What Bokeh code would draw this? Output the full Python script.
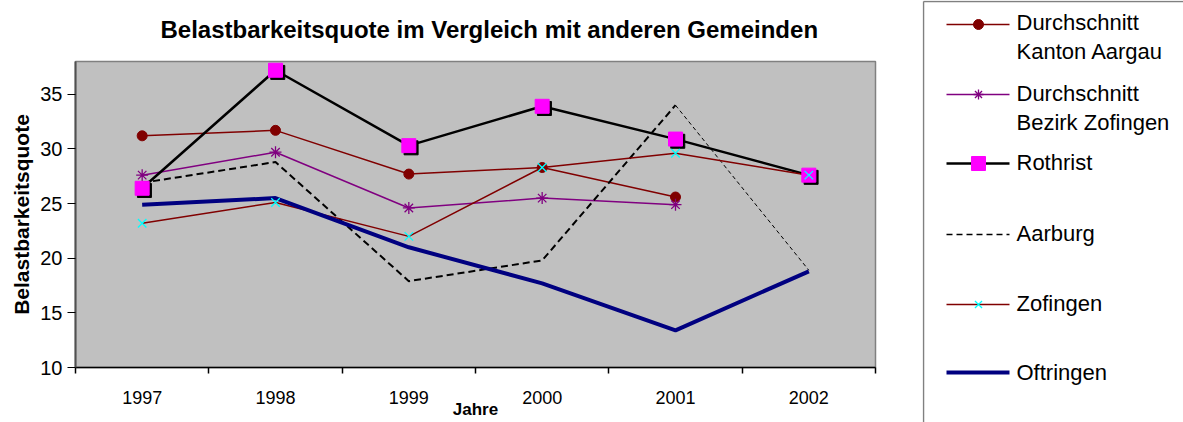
import numpy as np
from bokeh.plotting import figure
from bokeh.models import Range1d, FixedTicker, ColumnDataSource
from bokeh.layouts import row
from bokeh.transform import dodge
from bokeh.core.properties import value
from bokeh.embed import file_html
from bokeh.resources import INLINE

# ---------------- data ----------------
years = ["1997", "1998", "1999", "2000", "2001", "2002"]
kanton_aargau = [31.2, 31.7, 27.7, 28.3, 25.6, np.nan]
bezirk_zofingen = [27.6, 29.7, 24.6, 25.5, 24.9, np.nan]
rothrist = [26.4, 37.2, 30.3, 33.9, 30.9, 27.6]
aarburg = [26.9, 28.8, 17.9, 19.8, 34.0, 18.9]
zofingen = [23.2, 25.1, 22.0, 28.3, 29.6, 27.6]
oftringen = [24.9, 25.5, 21.0, 17.7, 13.4, 18.8]
y_ticks = [10, 15, 20, 25, 30, 35]
legend_labels = ["Durchschnitt\nKanton Aargau", "Durchschnitt\nBezirk Zofingen",
                 "Rothrist", "Aarburg", "Zofingen", "Oftringen"]
title_text = "Belastbarkeitsquote im Vergleich mit anderen Gemeinden"
y_label = "Belastbarkeitsquote"
x_label = "Jahre"

FONT = "Liberation Sans"
MAROON = "#800000"
PURPLE = "#800080"
MAGENTA = "#FF00FF"
CYAN = "#00FFFF"
NAVY = "#000080"

xpos = np.arange(len(years)) + 0.5
src = ColumnDataSource(dict(x=xpos, kanton=kanton_aargau, bezirk=bezirk_zofingen,
                            rothrist=rothrist, aarburg=aarburg, zofingen=zofingen,
                            oftringen=oftringen))

# ---------------- main chart ----------------
p = figure(width=922, height=422, x_range=Range1d(0, len(years)), y_range=Range1d(10, 38),
           output_backend="svg", toolbar_location=None,
           min_border_left=75, min_border_right=47, min_border_top=61, min_border_bottom=55)
p.frame_align = False
p.background_fill_color = "#C0C0C0"
p.border_fill_color = "white"
p.outline_line_color = "#808080"
p.outline_line_width = 1.5
p.xgrid.visible = False
p.ygrid.visible = False

# a blank second title line lifts the title away from the plot area
p.title.text = title_text + "\n\u00a0"
p.title.text_font = FONT
p.title.text_font_size = "24px"
p.title.text_font_style = "bold"
p.title.text_color = "black"
p.title.text_line_height = 0.6
p.title.align = "left"
p.title.offset = 85
p.title.standoff = 4

xa = p.xaxis[0]
xa.ticker = FixedTicker(ticks=list(xpos), minor_ticks=list(np.arange(len(years) + 1)))
xa.major_label_overrides = {float(v): y for v, y in zip(xpos, years)}
xa.major_tick_out = 0
xa.major_tick_in = 0
xa.minor_tick_out = 6
xa.minor_tick_in = 0
xa.minor_tick_line_color = "black"
xa.minor_tick_line_width = 1.5
xa.major_label_standoff = 17
xa.major_label_text_font = FONT
xa.major_label_text_font_size = "18px"
xa.major_label_text_color = "black"
xa.axis_line_color = "black"
xa.axis_line_width = 1.5
xa.axis_label = x_label
xa.axis_label_text_font = FONT
xa.axis_label_text_font_size = "17px"
xa.axis_label_text_font_style = "bold"
xa.axis_label_text_color = "black"
xa.axis_label_standoff = -7

ya = p.yaxis[0]
ya.ticker = FixedTicker(ticks=y_ticks)
ya.major_tick_out = 8
ya.major_tick_in = 0
ya.minor_tick_line_color = None
ya.major_tick_line_color = "black"
ya.major_tick_line_width = 1.2
ya.major_label_standoff = 5
ya.major_label_text_font = FONT
ya.major_label_text_font_size = "20px"
ya.major_label_text_color = "black"
ya.axis_line_color = "#505050"
ya.axis_line_width = 2
ya.axis_label = y_label
ya.axis_label_text_font = FONT
ya.axis_label_text_font_size = "21px"
ya.axis_label_text_font_style = "bold"
ya.axis_label_text_color = "black"
ya.axis_label_standoff = 4

# lines (series order)
p.line("x", "kanton", source=src, color=MAROON, line_width=1.5)
p.line("x", "bezirk", source=src, color=PURPLE, line_width=1.5)
p.line("x", "rothrist", source=src, color="black", line_width=2.5)
p.line(list(xpos[:5]), aarburg[:5], color="black", line_width=2, line_dash="7 4")
p.line(list(xpos[4:]), aarburg[4:], color="black", line_width=1, line_dash="4 3")
p.line("x", "zofingen", source=src, color=MAROON, line_width=1.5)
p.line("x", "oftringen", source=src, color=NAVY, line_width=4)

# markers
p.scatter("x", "kanton", source=src, marker="circle", size=10, fill_color=MAROON, line_color=MAROON)
p.scatter("x", "bezirk", source=src, marker="asterisk", size=12, line_color=PURPLE, line_width=1.3)
p.scatter(dodge("x", 0.017), dodge("rothrist", -0.2), source=src, marker="square", size=14,
          fill_color="black", line_color="black")
p.scatter("x", "rothrist", source=src, marker="square", size=14, fill_color=MAGENTA, line_color=MAGENTA)
p.scatter("x", "zofingen", source=src, marker="x", size=12, line_color=CYAN, line_width=1.3)

# ---------------- legend panel ----------------
lg = figure(width=261, height=422, x_range=Range1d(0, 261), y_range=Range1d(422, 0),
            output_backend="svg", toolbar_location=None, x_axis_type=None, y_axis_type=None,
            min_border=0)
lg.frame_align = False
lg.xgrid.visible = False
lg.ygrid.visible = False
lg.outline_line_color = None
lg.background_fill_color = "white"
lg.border_fill_color = "white"
lg.line([1, 1], [1, 422], color="#808080", line_width=1.5)
lg.line([1, 261], [1, 1], color="#808080", line_width=1.5)

sym_y = [24, 94, 163, 234, 304, 372]
first_line_y = [21.7, 93, 162, 233, 303, 371.5]
line_gap = 29
x0, x1, xm, xt = 24, 87, 56, 94

styles = [
    dict(color=MAROON, width=1.5, dash="solid"),
    dict(color=PURPLE, width=1.5, dash="solid"),
    dict(color="black", width=2.5, dash="solid"),
    dict(color="black", width=1.5, dash="6 4"),
    dict(color=MAROON, width=1.5, dash="solid"),
    dict(color=NAVY, width=4, dash="solid"),
]
for sy, st in zip(sym_y, styles):
    lg.line([x0, x1], [sy, sy], color=st["color"], line_width=st["width"], line_dash=st["dash"])

lg.scatter([xm], [sym_y[0]], marker="circle", size=10, fill_color=MAROON, line_color=MAROON)
lg.scatter([xm], [sym_y[1]], marker="asterisk", size=10, line_color=PURPLE, line_width=1.3)
lg.scatter([xm], [sym_y[2]], marker="square", size=14, fill_color=MAGENTA, line_color=MAGENTA)
lg.scatter([xm], [sym_y[4]], marker="x", size=10, line_color=CYAN, line_width=1.3)

tx, ty, tt = [], [], []
for lab, fy in zip(legend_labels, first_line_y):
    for k, part in enumerate(lab.split("\n")):
        tx.append(xt)
        ty.append(fy + k * line_gap)
        tt.append(part)
lg.text(x=tx, y=ty, text=tt, text_font=value(FONT), text_font_size="22px",
        text_baseline="middle", text_align="left", text_color="black")

layout = row(p, lg)
open("out.html", "w").write(file_html(layout, INLINE))
